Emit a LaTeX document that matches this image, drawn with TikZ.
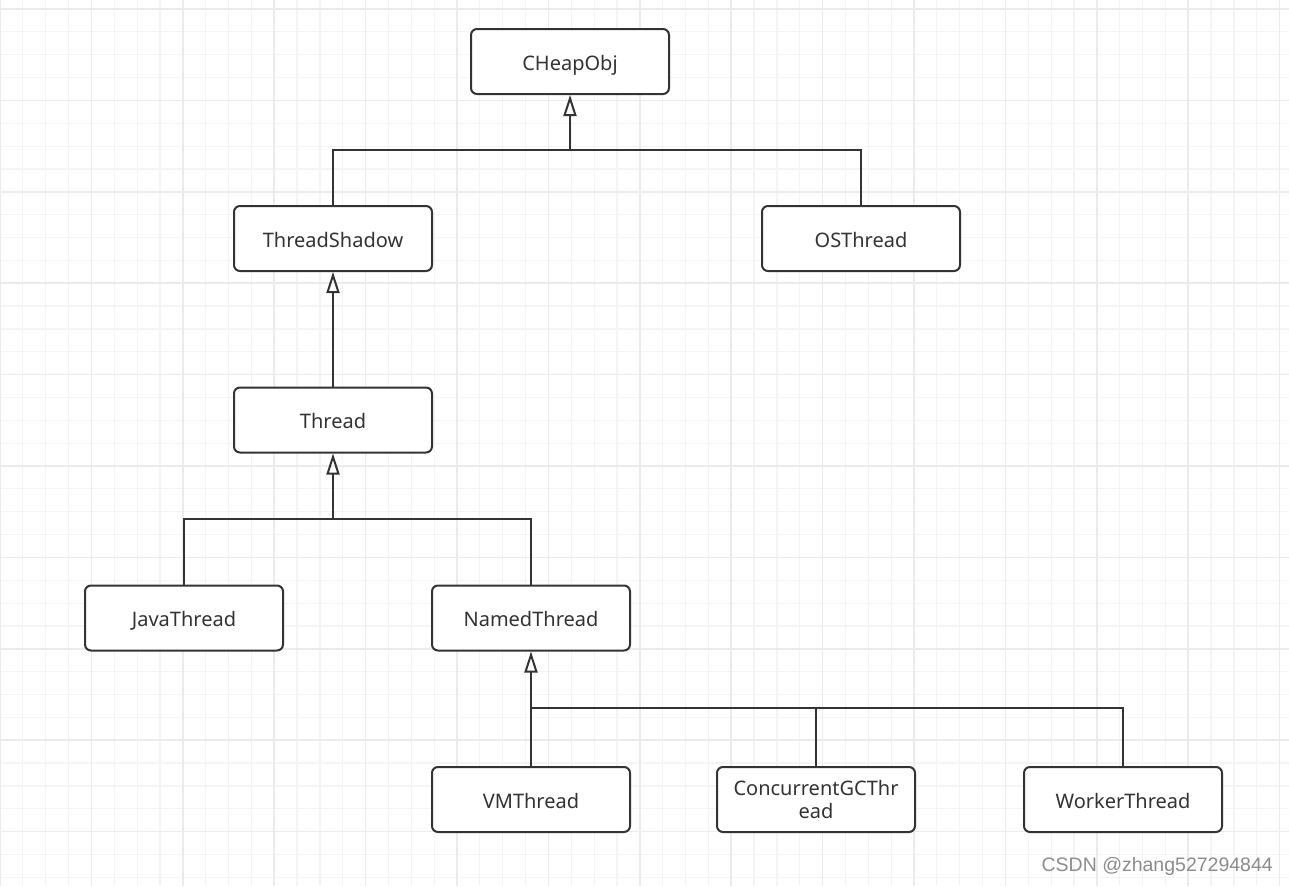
\documentclass[tikz,border=0pt]{standalone}
\usepackage{fontspec}
\setmainfont{Noto Sans}
\newfontfamily\markfont{Liberation Sans}
\usetikzlibrary{arrows.meta}
\definecolor{boxline}{HTML}{333333}
\definecolor{gridmin}{HTML}{F4F4F4}
\definecolor{gridmaj}{HTML}{EBEBEB}
\definecolor{markgray}{HTML}{8C8C8C}

\begin{document}
\begin{tikzpicture}[x=1pt, y=-1pt,
		klass/.style={draw=boxline, line width=2pt, rounded corners=6pt, fill=white,
			minimum width=198pt, minimum height=65pt, inner sep=0pt, align=center,
			text=boxline, font=\fontsize{20}{23}\selectfont},
		oneline/.style={klass, text height=17pt, text depth=0pt},
		link/.style={draw=boxline, line width=2pt},
		inherit/.style={link, -{Triangle[open, length=21pt, width=13pt, line width=2pt]}}]
		\useasboundingbox (0,0) rectangle (1289,886);
		\fill[white] (0,0) rectangle (1289,886);
		% background grid
		\foreach \i in {0,...,57} {
			\draw[gridmin, line width=1.2pt] (\i*22.85,0) -- (\i*22.85,886);
		}
		\foreach \j in {-1,...,39} {
			\draw[gridmin, line width=1.2pt] (0,9+\j*22.85) -- (1289,9+\j*22.85);
		}
		\foreach \i in {0,...,14} {
			\draw[gridmaj, line width=1.6pt] (\i*91.4,0) -- (\i*91.4,886);
		}
		\foreach \j in {0,...,9} {
			\draw[gridmaj, line width=1.6pt] (0,9+\j*91.4) -- (1289,9+\j*91.4);
		}
		% classes
		\node[oneline] (CHeapObj) at (570,61.5) {CHeapObj};
		\node[oneline] (ThreadShadow) at (333,238.5) {ThreadShadow};
		\node[oneline] (OSThread) at (861,238.5) {OSThread};
		\node[oneline] (Thread) at (333,420) {Thread};
		\node[oneline] (JavaThread) at (184,618) {JavaThread};
		\node[oneline] (NamedThread) at (531,618) {NamedThread};
		\node[oneline] (VMThread) at (531,799.5) {VMThread};
		\node[klass] (ConcurrentGCThread) at (816,799.5) {ConcurrentGCThr\\ead};
		\node[oneline] (WorkerThread) at (1123,799.5) {WorkerThread};
		% junctions
		\coordinate (jHeap) at (570,150);
		\coordinate (jThread) at (333,519);
		\coordinate (jNamed) at (531,708);
		% inheritance
		\draw[inherit] (jHeap) -- (CHeapObj.south);
		\draw[link] (ThreadShadow.north) |- (jHeap);
		\draw[link] (OSThread.north) |- (jHeap);
		\draw[inherit] (Thread.north) -- (ThreadShadow.south);
		\draw[inherit] (jThread) -- (Thread.south);
		\draw[link] (JavaThread.north) |- (jThread);
		\draw[link] (NamedThread.north) |- (jThread);
		\draw[inherit] (VMThread.north) -- (NamedThread.south);
		\draw[link] (ConcurrentGCThread.north) |- (jNamed);
		\draw[link] (WorkerThread.north) |- (jNamed);
		% watermark
		\node[anchor=east, inner sep=0pt, text=markgray, font=\markfont\fontsize{19.5}{21}\selectfont] (mark) at (1273,866) {CSDN @zhang527294844};
	\end{tikzpicture}
\end{document}
